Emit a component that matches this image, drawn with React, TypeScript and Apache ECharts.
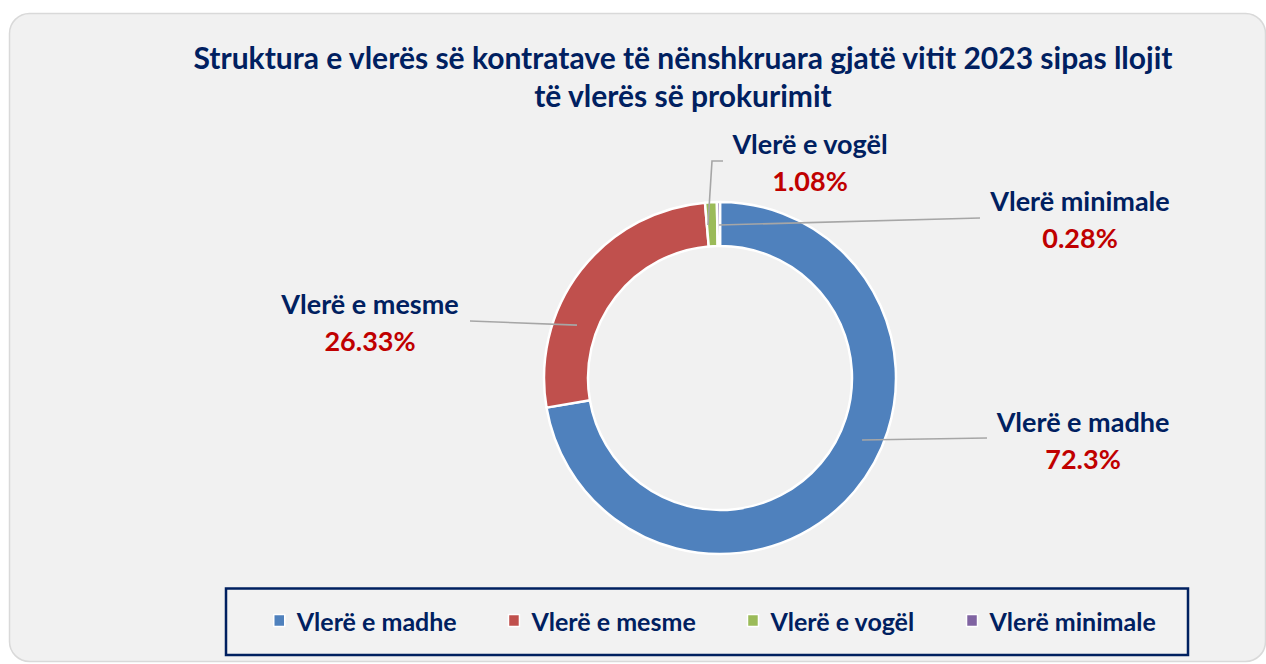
import React, { useEffect, useRef } from "react";
import * as echarts from "echarts";

const TITLE = "Struktura e vlerës së kontratave të nënshkruara gjatë vitit 2023 sipas llojit\ntë vlerës së prokurimit";
const categories = ["Vlerë e madhe", "Vlerë e mesme", "Vlerë e vogël", "Vlerë minimale"];
const shares = [72.3, 26.33, 1.08, 0.28];
const colors = ["#4F81BD", "#C0504D", "#9BBB59", "#8064A2"];

// layout of the data labels (not data)
const CENTER = [720, 378];
const labelPos = [
  [1083, 440],
  [370, 322],
  [810, 162],
  [1080, 219],
];
const anchorAngle = [113.6, 290.3, 355.5, 359.6];
const anchorR = [155, 152.5, 153.5, 153];
const leaderEnds = [
  [[987, 438]],
  [[470, 321]],
  [[712, 161], [723, 161]],
  [[980, 218]],
];

const NAVY = "#002060";
const FONT = "Lato";

export default function App() {
  const ref = useRef<HTMLDivElement>(null);
  useEffect(() => {
    if (!ref.current) return;
    const chart = echarts.init(ref.current, null, { renderer: "svg" });
    const anchor = (i: number) => {
      const a = (anchorAngle[i] * Math.PI) / 180;
      return [CENTER[0] + anchorR[i] * Math.sin(a), CENTER[1] - anchorR[i] * Math.cos(a)];
    };
    const leaders = categories.map((_, i) => ({
      type: "polyline",
      z: 50,
      shape: { points: [anchor(i), ...leaderEnds[i]] },
      style: { stroke: "#a6a6a6", lineWidth: 1.6, fill: null },
      silent: true,
    }));
    chart.setOption({
      animation: false,
      backgroundColor: "#ffffff",
      graphic: [
        {
          type: "rect",
          z: -10,
          shape: { x: 9.5, y: 13.5, width: 1256, height: 648, r: 20 },
          style: { fill: "#f1f1f1", stroke: "#d9d9d9", lineWidth: 1.5 },
        },
        {
          type: "rect",
          z: -5,
          shape: { x: 226, y: 588.5, width: 962, height: 66.5 },
          style: { fill: "#f2f2f2", stroke: NAVY, lineWidth: 2.5 },
        },
        ...leaders,
      ],
      title: {
        text: TITLE,
        left: 678,
        top: 33,
        textAlign: "center",
        textStyle: {
          fontFamily: FONT,
          fontWeight: "bold",
          fontSize: 30,
          lineHeight: 38,
          color: NAVY,
        },
      },
      legend: {
        data: categories,
        left: 273,
        top: 608,
        padding: 0,
        icon: "rect",
        itemWidth: 11,
        itemHeight: 12,
        itemGap: 51,
        itemStyle: { borderColor: "#ffffff", borderWidth: 1.5 },
        textStyle: {
          fontFamily: FONT,
          fontWeight: "bold",
          fontSize: 25,
          color: NAVY,
          padding: [0, 0, 0, 7],
        },
      },
      series: [
        {
          type: "pie",
          center: CENTER,
          radius: [132, 176],
          startAngle: 90,
          clockwise: true,
          avoidLabelOverlap: false,
          itemStyle: { borderColor: "#ffffff", borderWidth: 2.5 },
          emphasis: { disabled: true },
          data: categories.map((name, i) => ({
            name,
            value: shares[i],
            itemStyle: { color: colors[i] },
          })),
          label: {
            show: true,
            position: "outside",
            formatter: "{n|{b}}\n{p|{c}%}",
            rich: {
              n: { fontFamily: FONT, fontWeight: "bold", fontSize: 27, color: NAVY, lineHeight: 37, align: "center" },
              p: { fontFamily: FONT, fontWeight: "bold", fontSize: 27, color: "#C00000", lineHeight: 37, align: "center" },
            },
          },
          labelLine: { show: false },
          labelLayout: (params: any) => {
            const [lx, ly] = labelPos[params.dataIndex];
            return { x: lx, y: ly, align: "center", verticalAlign: "middle" };
          },
        },
      ],
    });
    return () => chart.dispose();
  }, []);
  return (
    <div
      ref={ref}
      style={{ position: "fixed", left: 0, top: 0, width: 1266, height: 664 }}
    />
  );
}
